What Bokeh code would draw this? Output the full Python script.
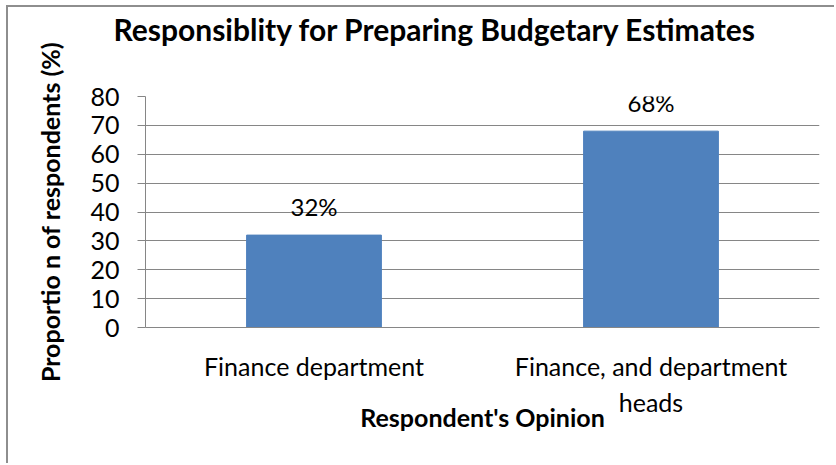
from bokeh.plotting import figure
from bokeh.models import Range1d, FactorRange, Title
from bokeh.core.properties import value
from bokeh.embed import file_html
from bokeh.resources import INLINE

# ---- data ----
categories = ["Finance department", "Finance, and department\nheads"]
percent = [32, 68]
value_labels = ["32%", "68%"]
y_ticks = [0, 10, 20, 30, 40, 50, 60, 70, 80]

title_text = "Responsiblity for Preparing Budgetary Estimates"
x_title = "Respondent's Opinion"
y_title = "Proportio n of respondents (%)"

FONT = "Lato"
GRAY = "#868686"
BAR = "#4F81BD"

p = figure(
    x_range=FactorRange(*categories),
    y_range=Range1d(0, 80),
    width=828, height=458,
    output_backend="svg", toolbar_location=None,
    min_border_left=137, min_border_right=17,
    min_border_top=89, min_border_bottom=138,
)
p.styles = {
    "margin-left": "6px", "margin-top": "5px",
    "border-top": "2px solid #8e8e8e", "border-left": "2px solid #8e8e8e",
}

p.title = Title(text=title_text, align="left", offset=-32, standoff=0,
                text_font=FONT, text_font_size="30px", text_font_style="bold",
                text_color="black")
# empty spacer between the plot area and the title
p.add_layout(Title(text=" ", text_font_size="43px", standoff=0), "above")

p.vbar(x=categories, top=percent, width=0.4, color=BAR)
p.text(x=categories, y=percent, text=value_labels, y_offset=-29,
       text_align="center", text_baseline="alphabetic",
       text_font=value(FONT), text_font_size="24px", text_color="black")

p.outline_line_color = None
p.xgrid.grid_line_color = None
p.ygrid.grid_line_color = GRAY
p.ygrid.grid_line_width = 1

ya = p.yaxis[0]
ya.ticker = y_ticks
ya.axis_line_color = GRAY
ya.major_tick_line_color = GRAY
ya.major_tick_out = 8
ya.major_tick_in = 0
ya.minor_tick_line_color = None
ya.major_label_standoff = 18
ya.major_label_text_font = FONT
ya.major_label_text_font_size = "25px"
ya.major_label_text_color = "black"
ya.axis_label = y_title
ya.axis_label_text_font = FONT
ya.axis_label_text_font_size = "25px"
ya.axis_label_text_font_style = "bold"
ya.axis_label_text_color = "black"
ya.axis_label_standoff = 22

xa = p.xaxis[0]
xa.axis_line_color = GRAY
xa.major_tick_line_color = None
xa.major_tick_out = 0
xa.major_tick_in = 0
xa.minor_tick_line_color = None
xa.major_label_standoff = 23
xa.major_label_text_font = FONT
xa.major_label_text_font_size = "25px"
xa.major_label_text_color = "black"
xa.axis_label = x_title
xa.axis_label_text_font = FONT
xa.axis_label_text_font_size = "25px"
xa.axis_label_text_font_style = "bold"
xa.axis_label_text_color = "black"
xa.axis_label_standoff = -18

open("out.html", "w").write(file_html(p, INLINE))
